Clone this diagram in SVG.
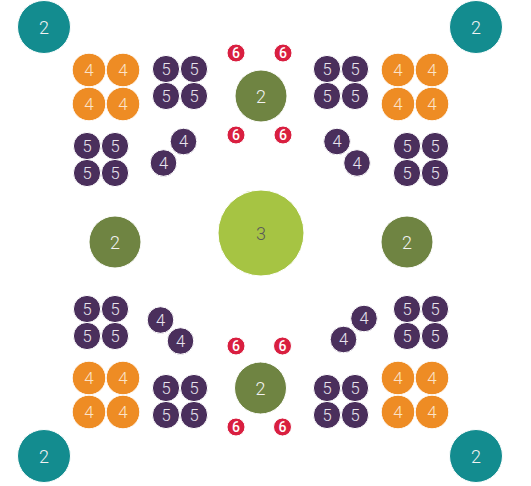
<svg xmlns="http://www.w3.org/2000/svg" width="531" height="486" viewBox="0 0 531 486">
<style>
circle{stroke:#ffffff;stroke-width:1}
text{font-family:Roboto,"Liberation Sans",sans-serif;font-weight:300;text-anchor:middle;dominant-baseline:central}
.teal circle{fill:#138C8F}
.teal text{fill:#f2f2f2;font-size:18px}
.org circle{fill:#EE8C24}
.org text{fill:#fbe3c8;font-size:17px}
.pur circle{fill:#4A2F5C}
.pur text{fill:#e8e4ee;font-size:16.5px}
.red circle{fill:#D91F40}
.red text{fill:#ffffff;font-size:14px;font-weight:500}
.dg circle{fill:#6F8442}
.dg text{fill:#f2f2f2;font-size:18px}
.lg circle{fill:#A6C443}
.lg text{fill:#5a5a5a;font-size:18px}
</style>
<rect width="531" height="486" fill="#ffffff"/>
<g id="teal-tl" class="teal"><circle cx="44" cy="27" r="26.5"/><text x="44" y="27">2</text></g>
<g id="teal-tr" class="teal"><circle cx="476" cy="27" r="26.5"/><text x="476" y="27">2</text></g>
<g id="teal-bl" class="teal"><circle cx="44" cy="456" r="26.5"/><text x="44" y="456">2</text></g>
<g id="teal-br" class="teal"><circle cx="476" cy="456" r="26.5"/><text x="476" y="456">2</text></g>

<g id="orange-tl" class="org">
<circle cx="89" cy="70" r="16.8"/><text x="89" y="70">4</text>
<circle cx="123" cy="70" r="16.8"/><text x="123" y="70">4</text>
<circle cx="89" cy="104" r="16.8"/><text x="89" y="104">4</text>
<circle cx="123" cy="104" r="16.8"/><text x="123" y="104">4</text>
</g>
<g id="orange-tr" class="org">
<circle cx="398" cy="70" r="16.8"/><text x="398" y="70">4</text>
<circle cx="432" cy="70" r="16.8"/><text x="432" y="70">4</text>
<circle cx="398" cy="104" r="16.8"/><text x="398" y="104">4</text>
<circle cx="432" cy="104" r="16.8"/><text x="432" y="104">4</text>
</g>
<g id="orange-bl" class="org">
<circle cx="89" cy="378" r="16.8"/><text x="89" y="378">4</text>
<circle cx="123" cy="378" r="16.8"/><text x="123" y="378">4</text>
<circle cx="89" cy="412" r="16.8"/><text x="89" y="412">4</text>
<circle cx="123" cy="412" r="16.8"/><text x="123" y="412">4</text>
</g>
<g id="orange-br" class="org">
<circle cx="398" cy="378" r="16.8"/><text x="398" y="378">4</text>
<circle cx="432" cy="378" r="16.8"/><text x="432" y="378">4</text>
<circle cx="398" cy="412" r="16.8"/><text x="398" y="412">4</text>
<circle cx="432" cy="412" r="16.8"/><text x="432" y="412">4</text>
</g>

<g id="purple5-top-l" class="pur">
<circle cx="166" cy="69" r="13.6"/><text x="166" y="69">5</text>
<circle cx="194" cy="69" r="13.6"/><text x="194" y="69">5</text>
<circle cx="166" cy="96" r="13.6"/><text x="166" y="96">5</text>
<circle cx="194" cy="96" r="13.6"/><text x="194" y="96">5</text>
</g>
<g id="purple5-top-r" class="pur">
<circle cx="327" cy="69" r="13.6"/><text x="327" y="69">5</text>
<circle cx="355" cy="69" r="13.6"/><text x="355" y="69">5</text>
<circle cx="327" cy="96" r="13.6"/><text x="327" y="96">5</text>
<circle cx="355" cy="96" r="13.6"/><text x="355" y="96">5</text>
</g>
<g id="purple5-mid-tl" class="pur">
<circle cx="87" cy="146" r="13.6"/><text x="87" y="146">5</text>
<circle cx="115" cy="146" r="13.6"/><text x="115" y="146">5</text>
<circle cx="87" cy="173" r="13.6"/><text x="87" y="173">5</text>
<circle cx="115" cy="173" r="13.6"/><text x="115" y="173">5</text>
</g>
<g id="purple5-mid-tr" class="pur">
<circle cx="407" cy="146" r="13.6"/><text x="407" y="146">5</text>
<circle cx="435" cy="146" r="13.6"/><text x="435" y="146">5</text>
<circle cx="407" cy="173" r="13.6"/><text x="407" y="173">5</text>
<circle cx="435" cy="173" r="13.6"/><text x="435" y="173">5</text>
</g>
<g id="purple5-mid-bl" class="pur">
<circle cx="87" cy="309" r="13.6"/><text x="87" y="309">5</text>
<circle cx="115" cy="309" r="13.6"/><text x="115" y="309">5</text>
<circle cx="87" cy="336" r="13.6"/><text x="87" y="336">5</text>
<circle cx="115" cy="336" r="13.6"/><text x="115" y="336">5</text>
</g>
<g id="purple5-mid-br" class="pur">
<circle cx="407" cy="309" r="13.6"/><text x="407" y="309">5</text>
<circle cx="435" cy="309" r="13.6"/><text x="435" y="309">5</text>
<circle cx="407" cy="336" r="13.6"/><text x="407" y="336">5</text>
<circle cx="435" cy="336" r="13.6"/><text x="435" y="336">5</text>
</g>
<g id="purple5-bot-l" class="pur">
<circle cx="166" cy="388" r="13.6"/><text x="166" y="388">5</text>
<circle cx="194" cy="388" r="13.6"/><text x="194" y="388">5</text>
<circle cx="166" cy="415" r="13.6"/><text x="166" y="415">5</text>
<circle cx="194" cy="415" r="13.6"/><text x="194" y="415">5</text>
</g>
<g id="purple5-bot-r" class="pur">
<circle cx="327" cy="388" r="13.6"/><text x="327" y="388">5</text>
<circle cx="355" cy="388" r="13.6"/><text x="355" y="388">5</text>
<circle cx="327" cy="415" r="13.6"/><text x="327" y="415">5</text>
<circle cx="355" cy="415" r="13.6"/><text x="355" y="415">5</text>
</g>

<g id="purple4-tl" class="pur">
<circle cx="183.5" cy="141.5" r="13.3"/><text x="183.5" y="141.5">4</text>
<circle cx="163.5" cy="163" r="13.3"/><text x="163.5" y="163">4</text>
</g>
<g id="purple4-tr" class="pur">
<circle cx="337" cy="141.5" r="13.3"/><text x="337" y="141.5">4</text>
<circle cx="357" cy="163" r="13.3"/><text x="357" y="163">4</text>
</g>
<g id="purple4-bl" class="pur">
<circle cx="160.5" cy="320" r="13.3"/><text x="160.5" y="320">4</text>
<circle cx="180.5" cy="341" r="13.3"/><text x="180.5" y="341">4</text>
</g>
<g id="purple4-br" class="pur">
<circle cx="364" cy="318.5" r="13.3"/><text x="364" y="318.5">4</text>
<circle cx="343.5" cy="339.5" r="13.3"/><text x="343.5" y="339.5">4</text>
</g>

<g id="red-top" class="red">
<circle cx="236" cy="53" r="9"/><text x="236" y="53">6</text>
<circle cx="283" cy="53" r="9"/><text x="283" y="53">6</text>
<circle cx="236" cy="135" r="9"/><text x="236" y="135">6</text>
<circle cx="283" cy="135" r="9"/><text x="283" y="135">6</text>
</g>
<g id="red-bot" class="red">
<circle cx="236" cy="346" r="9"/><text x="236" y="346">6</text>
<circle cx="282.5" cy="346" r="9"/><text x="282.5" y="346">6</text>
<circle cx="236" cy="427" r="9"/><text x="236" y="427">6</text>
<circle cx="282.5" cy="427" r="9"/><text x="282.5" y="427">6</text>
</g>

<g id="green-top" class="dg"><circle cx="261" cy="96" r="26"/><text x="261" y="96">2</text></g>
<g id="green-bottom" class="dg"><circle cx="260.5" cy="388" r="26"/><text x="260.5" y="388">2</text></g>
<g id="green-left" class="dg"><circle cx="115" cy="242" r="26"/><text x="115" y="242">2</text></g>
<g id="green-right" class="dg"><circle cx="407" cy="242" r="26"/><text x="407" y="242">2</text></g>
<g id="center" class="lg"><circle cx="261" cy="233" r="43"/><text x="261" y="233">3</text></g>
<g id="connectors"/>
</svg>
